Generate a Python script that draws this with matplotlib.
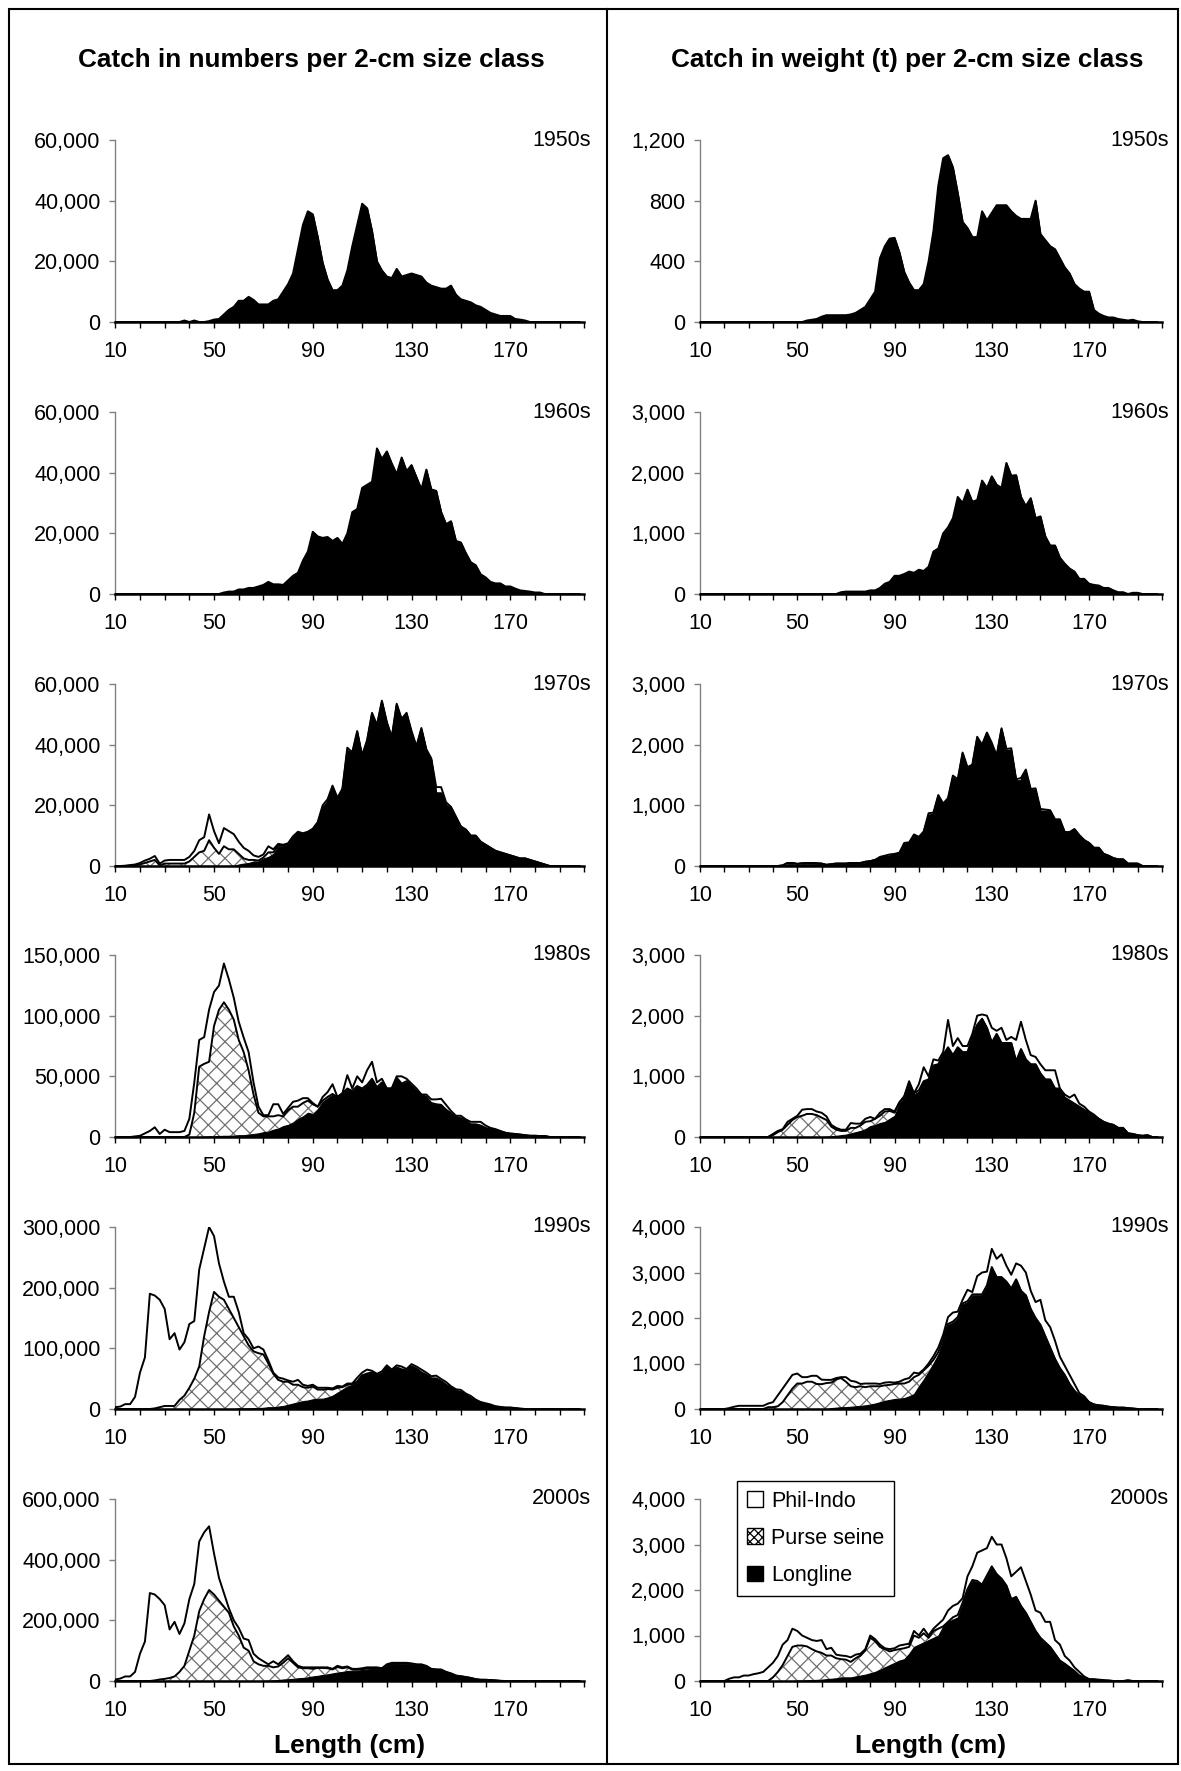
import numpy as np
import matplotlib
matplotlib.use("Agg")
import matplotlib.pyplot as plt
from matplotlib.patches import Patch, Rectangle
from matplotlib.lines import Line2D
from matplotlib.ticker import FuncFormatter

plt.rcParams['font.family'] = ['Liberation Sans', 'DejaVu Sans']
plt.rcParams['hatch.linewidth'] = 0.9

# 2-cm length classes
LENGTHS = np.arange(10, 200, 2)
DECADES = ['1950s', '1960s', '1970s', '1980s', '1990s', '2000s']

# each series: (first length class, values per 2-cm class from there on)
# catch in numbers, thousands of fish
num_longline = {
    '1950s': (38, [0.5, 0, 0.5, 0, 0, 0.3, 0.8, 1.0, 2.5, 4.0, 5.0, 7.0, 7.0, 8.3, 7.3, 5.8, 5.8, 5.8, 7.0, 7.5,
                   10, 12.5, 16, 24, 32, 36.5, 35.5, 28, 19.5, 14, 10.5, 10.5, 12, 17, 25, 32, 39, 37.5, 30, 20,
                   17, 15, 14.5, 17.5, 15, 15.5, 16, 15.5, 15, 13, 12, 11.5, 11, 11, 12, 9, 7.5, 7, 6.5, 5.5,
                   5, 4, 3, 2.5, 2, 2, 2, 1, 0.8, 0.5]),
    '1960s': (54, [0.5, 0.8, 0.8, 1.5, 1.5, 2.0, 2.0, 2.5, 3.0, 4.0, 3.2, 3.2, 3.0, 4.5, 6.0, 7.0, 11, 14, 20.5, 19,
                   18.5, 18.8, 17.5, 18.5, 16.5, 20, 27, 28, 35, 36, 37, 48, 44.5, 47, 43, 39.5, 45, 40.5, 42.5, 38.5,
                   34.5, 41, 34.5, 34, 27, 23, 24, 17.5, 17, 13.5, 10.5, 9.5, 6.5, 5.5, 4, 3.5, 3.5, 2.5, 2.5, 1.8,
                   1.2, 1.0, 0.8, 0.5, 0.5]),
    '1970s': (60, [0.5, 0.8, 1.0, 1.5, 1.5, 2.5, 3.0, 4.0, 6.5, 6.5, 7.0, 9.5, 11, 10.5, 11, 12, 14, 19, 21, 26,
                   22, 25, 38, 37, 44, 36, 41, 50, 46, 54, 47, 42, 53, 48, 50, 44, 39, 45, 38, 35,
                   24, 24, 20, 19, 16, 13, 12, 10, 10, 8, 7, 6, 5, 4.5, 4, 3.5, 3, 2.5, 2.5, 2,
                   1.5, 1, 0.5]),
    '1980s': (46, [0.3, 0.5, 0.5, 0.8, 1.0, 1.0, 1.2, 1.5, 1.5, 2.0, 2.5, 3.0, 4.0, 4.5, 6.0, 7.0, 9.0, 10, 12, 15,
                   17, 20, 19, 23, 29, 32, 35, 32.5, 35.5, 39.5, 37.5, 41.5, 39.5, 42.5, 47.5, 40.5, 44.5, 39.5, 39.5, 48.5,
                   43.5, 45.5, 41.5, 37.5, 34.5, 32.5, 27.5, 26.5, 26.5, 22.5, 19.5, 16.5, 15.5, 13.5, 10.5, 10.5, 9.5, 7.5, 6.5, 5.5,
                   4.5, 3.5, 2.8, 2.5, 2, 1.5, 1, 1, 0.8, 0.8]),
    '1990s': (60, [1, 1, 1, 1.5, 1.5, 2, 3, 3, 4, 5, 7, 9, 11, 13, 14, 16, 17, 17, 19, 22,
                   27, 32, 37, 40, 45, 55, 58, 60, 55, 58, 68, 62, 68, 65, 63, 70, 66, 60, 56, 50,
                   50, 46, 40, 35, 30, 28, 23, 18, 13, 10, 8, 6, 4, 3, 2, 2, 1.5, 0.5]),
    '2000s': (72, [1, 2, 3, 5, 6, 7, 9, 10, 12, 15, 17, 20, 22, 25, 28, 30, 33, 34, 34, 36,
                   38, 40, 40, 40, 50, 54, 55, 55, 55, 55, 52, 50, 47, 38, 36, 35, 28, 23, 16, 14,
                   13, 10, 6, 4, 4, 3, 2, 0.5]),
}
num_purse = {
    '1970s': (16, [0.1, 0.2, 0.5, 1.0, 1.5, 2.0, 0.2, 0.8, 0.8, 0.8, 0.8, 0.8, 1.5, 3.0, 4.5, 5.0, 8.5, 6.0, 4.0, 6.5,
                   5.5, 5.5, 3.5, 1.7, 1.0, 0.5, 0.3, 0.3, 1.5, 0.5, 0.3, 0.2, 0.2]),
    '1980s': (40, [2, 20, 58, 60, 61.5, 91, 104, 110, 104, 95.5, 78.5, 68.5, 53, 32.5, 17, 13, 12.5, 11, 11, 8,
                   12, 13, 10, 11, 10, 8, 2, 1, 1, 0.5, 0.5, 0.5, 0.5, 0.5, 0.5, 0.5, 0.5, 0.5, 0.5, 0.5,
                   0.5, 0.5, 0.5, 0.5, 0.5, 0.5, 0.5, 0.5, 0.5, 0.5, 0.5]),
    '1990s': (26, [1, 3, 5, 5, 5, 15, 22, 35, 50, 70, 120, 160, 193, 185, 180, 165, 150, 134, 119, 104,
                   93.5, 90.5, 88, 72, 55, 44, 40, 38, 31, 29, 23, 21, 21, 15, 15, 14, 10, 8, 4, 3,
                   1, 0.5, 0.5, 0.5, 0.5, 0.5, 0.5, 0.5, 0.5, 0.5, 0.5, 0.5, 0.5, 0.5, 0.5, 0.5, 0.5, 0.5]),
    '2000s': (26, [2, 5, 7, 10, 15, 30, 50, 100, 150, 230, 270, 300, 285, 265, 245, 225, 180, 150, 110, 100,
                   65, 55, 50, 49, 43, 45, 55, 69, 53, 36, 32, 30, 25, 26, 23, 20, 13, 18, 12, 12,
                   4, 3, 3, 3, 2, 1.5, 1.5, 1.5, 1.5, 1.5, 1.5, 1.5, 1.5, 1.5, 1.5, 1.5, 1.5, 1.5, 1.5, 1.5,
                   1.5, 1.5, 1.5]),
}
num_philindo = {
    '1970s': (14, [0.1, 0.2, 0.3, 0.5, 0.8, 0.9, 1.3, 0.6, 1.0, 1.2, 1.2, 1.2, 1.2, 1.5, 2.0, 4.0, 4.5, 8.5, 5.5, 3.5,
                   6.0, 6.0, 5.0, 4.0, 3.5, 3.0, 1.5, 1.2, 1.0, 2.0, 1.0, 0.5, 0.3, 0.3, 0.3, 0.3, 0.3, 0.3, 0.3, 0.5,
                   1.0, 1.0, 0.5, 0.5, 0.5, 1.0, 0.5, 0.5, 0.5, 0.5, 0.5, 0.5, 0.5, 0.5, 0.5, 0.5, 0.5, 0.5, 0.5, 0.5,
                   0.5, 0.5, 0.5, 2.0, 2.0, 1.0, 0.5, 0.3]),
    '1980s': (18, [0.5, 1, 3, 5, 8, 2.5, 6, 4, 4, 4, 5, 13, 25, 22, 22, 43, 28, 20, 32, 25,
                   18, 15, 12, 15, 10, 5, 1, 1, 10, 9, 2, 2, 4, 5, 4, 2, 1, 0, 3, 4,
                   8, 0, 0, 11, 2, 8, 5, 12, 14, 4, 3, 0, 0, 1, 6, 2, 2, 2, 0, 2,
                   3, 4, 5, 4, 2, 1, 2, 1, 2, 2, 3, 2, 1, 1, 0.5]),
    '1990s': (10, [3, 4, 8, 8, 20, 60, 85, 190, 186, 177, 160, 110, 120, 83, 88, 105, 95, 160, 145, 140,
                   92, 55, 30, 20, 35, 25, 5, 10, 5, 11, 8, 5, 2, 4, 5, 2, 5, 8, 4, 3,
                   3, 3, 3, 2, 2, 3, 1, 2, 1, 6, 4.5, 6.5, 2.5, 2.5, 3.5, 3.5, 2.5, 3.5, 4.5, 2.5,
                   3.5, 3.5, 4.5, 3.5, 3.5, 4.5, 3.5, 4.5, 2.5, 2.5, 3.5, 2.5, 3.5, 2.5, 1.5, 1.5, 1.5, 0.5, 0.5, 0.5,
                   0.5]),
    '2000s': (10, [5, 8, 15, 15, 30, 90, 130, 290, 283, 265, 243, 160, 180, 125, 140, 170, 170, 230, 220, 210,
                   135, 75, 45, 15, 20, 25, 30, 35, 25, 20, 15, 5, 20, 7, 10, 10, 5, 5, 3, 3,
                   5, 2, 2, 3, 2, 4, 3, 3, 2, 3, 3, 4, 3, 3.5, 0.5, 3.5, 4.5, 3.5, 3.5, 3.5,
                   1.5, 1.5, 3.5, 1.5, 0.5, 0.5, 1.5, 0.5, 0.5, 0.5]),
}

# catch in weight, tonnes
wt_longline = {
    '1950s': (54, [10, 15, 20, 35, 45, 45, 45, 45, 45, 50, 60, 80, 100, 150, 200, 420, 500, 550, 555, 460,
                   330, 260, 210, 210, 250, 400, 600, 900, 1080, 1100, 1020, 850, 660, 620, 560, 560, 730, 670, 720, 770,
                   770, 770, 730, 700, 680, 680, 680, 800, 580, 540, 500, 480, 420, 360, 320, 250, 220, 200, 200, 80,
                   55, 40, 30, 30, 20, 15, 10, 15, 5]),
    '1960s': (68, [30, 40, 40, 40, 40, 40, 60, 60, 100, 170, 200, 300, 300, 330, 370, 350, 400, 380, 450, 700,
                   750, 1000, 1100, 1250, 1600, 1500, 1720, 1520, 1550, 1870, 1750, 1940, 1800, 1750, 2160, 1950, 1960, 1600, 1450, 1580,
                   1250, 1280, 950, 800, 800, 600, 500, 420, 370, 250, 250, 170, 150, 140, 100, 100, 60, 30, 30, 0,
                   20, 20]),
    '1970s': (46, [30, 30, 20, 30, 30, 30, 30, 30, 10, 20, 30, 30, 30, 40, 40, 40, 60, 80, 100, 130,
                   150, 160, 180, 200, 350, 370, 500, 450, 550, 830, 850, 1150, 1000, 1100, 1450, 1400, 1850, 1600, 1650, 2100,
                   1980, 2180, 2000, 1800, 2250, 1900, 1900, 1400, 1400, 1550, 1250, 1250, 900, 900, 900, 750, 750, 550, 550, 600,
                   500, 420, 380, 300, 300, 200, 170, 130, 110, 110, 40, 40, 40]),
    '1980s': (62, [5, 10, 20, 30, 40, 60, 80, 100, 130, 180, 200, 230, 250, 300, 350, 550, 650, 870, 700, 750,
                   920, 950, 1180, 1200, 1350, 1480, 1350, 1480, 1400, 1400, 1650, 1850, 1950, 1800, 1560, 1700, 1550, 1550, 1550, 1250,
                   1450, 1280, 1200, 1200, 1050, 950, 950, 800, 800, 650, 600, 550, 500, 450, 400, 350, 300, 250, 220, 200,
                   150, 150, 60, 50, 30, 20, 30]),
    '1990s': (64, [20, 30, 40, 40, 50, 60, 70, 80, 100, 120, 150, 180, 200, 220, 230, 240, 280, 330, 500, 650,
                   820, 1000, 1200, 1500, 1850, 1900, 2000, 2300, 2350, 2500, 2500, 2500, 2700, 3100, 2900, 2900, 2800, 2650, 2850, 2600,
                   2500, 2200, 2000, 1850, 1600, 1350, 1100, 900, 750, 550, 400, 300, 250, 150, 100, 80, 70, 50, 40, 30,
                   30, 20, 10]),
    '2000s': (50, [10, 10, 15, 20, 25, 30, 40, 50, 60, 80, 80, 80, 100, 120, 140, 170, 200, 250, 300, 350,
                   400, 450, 480, 600, 750, 800, 850, 900, 950, 1000, 1200, 1300, 1350, 1400, 1700, 2000, 2200, 2180, 2100, 2300,
                   2500, 2350, 2250, 2100, 1800, 1850, 1650, 1500, 1300, 1100, 950, 850, 750, 600, 450, 380, 300, 220, 120, 80,
                   40, 30, 20, 10, 10]),
}
wt_purse = {
    '1970s': (44, [10, 20, 20, 15, 15, 20, 20, 15, 10, 10, 10, 10, 10, 10, 10, 10, 10, 10]),
    '1980s': (40, [30, 80, 120, 200, 280, 330, 350, 380, 380, 360, 320, 275, 160, 100, 70, 60, 90, 70, 90, 120,
                   80, 100, 120, 170, 130, 50, 20, 20, 20, 20, 20]),
    '1990s': (38, [40, 40, 60, 150, 300, 450, 560, 560, 600, 600, 550, 545, 570, 560, 620, 640, 560, 450, 420, 430,
                   400, 400, 380, 350, 340, 330, 330, 330, 320, 320, 370, 250, 200, 130, 80, 50, 30, 20, 20, 20,
                   20, 20, 20, 20, 20, 20, 20]),
    '2000s': (40, [80, 200, 350, 550, 750, 770, 770, 745, 680, 625, 590, 520, 510, 440, 400, 390, 340, 400, 440, 540,
                   780, 680, 500, 400, 300, 280, 250, 240, 150, 250, 150, 200, 50, 150, 150, 0, 0, 50, 50, 20,
                   20, 20, 20, 20, 20, 20]),
}
wt_philindo = {
    '1970s': (84, [20, 20, 30, 20, 20, 30, 20, 20, 30, 20, 40, 30, 20, 30, 20, 40, 30, 20, 30, 20,
                   30, 20, 20, 30, 20, 20, 30, 40, 30, 50, 40, 20, 30, 40, 30, 20, 20, 20, 10, 10,
                   10, 10, 10]),
    '1980s': (40, [20, 20, 10, 50, 20, 20, 100, 80, 80, 60, 80, 60, 30, 30, 20, 20, 80, 70, 30, 50,
                   70, 0, 50, 40, 30, 20, 0, 0, 30, 0, 100, 230, 50, 100, 60, 50, 450, 150, 150, 100,
                   100, 50, 150, 70, 200, 240, 50, 250, 50, 100, 350, 450, 320, 150, 120, 150, 150, 150, 300, 0,
                   50, 50, 150, 50, 50, 20, 20]),
    '1990s': (22, [20, 50, 70, 70, 70, 70, 70, 70, 80, 110, 240, 300, 300, 300, 220, 140, 100, 130, 180, 100,
                   70, 60, 30, 20, 100, 120, 120, 50, 80, 60, 60, 50, 60, 60, 30, 40, 90, 80, 100, 30,
                   20, 50, 80, 100, 100, 150, 200, 120, 80, 250, 50, 400, 480, 300, 400, 400, 500, 350, 300, 350,
                   550, 500, 400, 350, 550, 350, 450, 400, 250, 200, 200, 150, 50, 30]),
    '2000s': (22, [50, 80, 80, 120, 120, 150, 170, 200, 300, 320, 350, 450, 350, 400, 320, 220, 190, 200, 230, 280,
                   140, 170, 80, 80, 80, 100, 80, 40, 20, 50, 40, 50, 20, 50, 40, 80, 80, 70, 100, 50,
                   100, 50, 50, 100, 150, 250, 250, 250, 100, 280, 300, 620, 750, 600, 650, 650, 750, 600, 500, 550,
                   850, 700, 600, 450, 550, 450, 550, 300, 350, 170, 150, 80, 80, 20, 0, 10, 10, 10, 0, 0,
                   0, 0, 20]),
}

num_ylim = [60000, 60000, 60000, 150000, 300000, 600000]
num_ystep = [20000, 20000, 20000, 50000, 100000, 200000]
wt_ylim = [1200, 3000, 3000, 3000, 4000, 4000]
wt_ystep = [400, 1000, 1000, 1000, 1000, 1000]

col_titles = ['Catch in numbers per 2-cm size class', 'Catch in weight (t) per 2-cm size class']
series_names = ['Phil-Indo', 'Purse seine', 'Longline']


def expand(entry):
    out = np.zeros(len(LENGTHS))
    if entry is None:
        return out
    start, vals = entry
    i = (start - 10) // 2
    out[i:i + len(vals)] = vals
    return out


W, H = 1181, 1771
fig = plt.figure(figsize=(W / 100, H / 100), dpi=100)

row_zero = [322, 594, 866, 1137, 1409, 1681]
ax_h = 182
col_x = [(115.3, 469), (700, 462)]
fs = 15.5

columns = [
    (num_longline, num_purse, num_philindo, num_ylim, num_ystep, 1000),
    (wt_longline, wt_purse, wt_philindo, wt_ylim, wt_ystep, 1),
]

for c, (ll_d, ps_d, pi_d, ylims, ysteps, scale) in enumerate(columns):
    x0, w = col_x[c]
    for r, dec in enumerate(DECADES):
        ax = fig.add_axes([x0 / W, 1 - row_zero[r] / H, w / W, ax_h / H])
        ll = expand(ll_d.get(dec)) * scale
        ps = expand(ps_d.get(dec)) * scale
        pi = expand(pi_d.get(dec)) * scale
        c1 = ll
        c2 = ll + ps
        c3 = c2 + pi

        ax.fill_between(LENGTHS, c2, c3, facecolor='white', edgecolor='none', zorder=2)
        ax.plot(LENGTHS, c3, color='black', lw=1.4, zorder=3)
        if ps.any():
            ax.fill_between(LENGTHS, c1, c2, facecolor='white', edgecolor='#707070',
                            hatch='xx', linewidth=0, zorder=2)
            ax.plot(LENGTHS, c2, color='black', lw=1.4, zorder=3)
        ax.fill_between(LENGTHS, 0, c1, facecolor='black', edgecolor='black', lw=0.8, zorder=4)

        ax.set_xlim(10, 200)
        ax.set_ylim(0, ylims[r])
        ax.set_yticks(np.arange(0, ylims[r] + 1, ysteps[r]))
        ax.yaxis.set_major_formatter(FuncFormatter(lambda v, p: f'{v:,.0f}'))
        ticks = list(range(10, 201, 10))
        ax.set_xticks(ticks)
        ax.set_xticklabels([str(t) if t in (10, 50, 90, 130, 170) else '' for t in ticks])

        for s in ('top', 'right'):
            ax.spines[s].set_visible(False)
        ax.spines['left'].set_color('#808080')
        ax.spines['left'].set_linewidth(1.0)
        ax.spines['bottom'].set_color('black')
        ax.spines['bottom'].set_linewidth(1.8)
        ax.spines['bottom'].set_zorder(5)
        ax.tick_params(axis='x', direction='out', length=4.5, width=1.0, color='black',
                       pad=9, labelsize=fs)
        ax.tick_params(axis='y', direction='out', length=4.5, width=1.0, color='#808080',
                       pad=6, labelsize=fs)
        ax.patch.set_alpha(0)

        ax.text(1.015, 1.0, dec, transform=ax.transAxes, ha='right', va='center', fontsize=fs)

        if r == 5:
            ax.text(0.5, -0.355, 'Length (cm)', transform=ax.transAxes, ha='center', va='center',
                    fontsize=19, fontweight='bold')

# column titles
fig.text(311 / W, 1 - 60 / H, col_titles[0], ha='center', va='center', fontsize=18.8, fontweight='bold')
fig.text(907 / W, 1 - 60 / H, col_titles[1], ha='center', va='center', fontsize=18.8, fontweight='bold')

# legend in the 2000s weight panel
handles = [
    Patch(facecolor='white', edgecolor='black', lw=1),
    Patch(facecolor='white', edgecolor='black', hatch='xxxx', lw=1),
    Patch(facecolor='black', edgecolor='black', lw=1),
]
leg = fig.legend(handles, series_names, loc='upper left', bbox_to_anchor=(737 / W, 1 - 1481 / H),
                 frameon=True, fancybox=False, edgecolor='black', framealpha=1, fontsize=fs,
                 handlelength=0.75, handleheight=0.75, handletextpad=0.4, labelspacing=0.75,
                 borderpad=0.45, borderaxespad=0)
leg.get_frame().set_linewidth(1.0)

# outer frame and divider
fig.patches.append(Rectangle((9 / W, 7 / H), 1169 / W, 1755 / H, transform=fig.transFigure,
                             fill=False, edgecolor='black', lw=1.5))
fig.lines.append(Line2D([607 / W, 607 / W], [7 / H, 1 - 9 / H], transform=fig.transFigure,
                        color='black', lw=1.5))

fig.savefig('out.png', dpi=100, facecolor='white')
